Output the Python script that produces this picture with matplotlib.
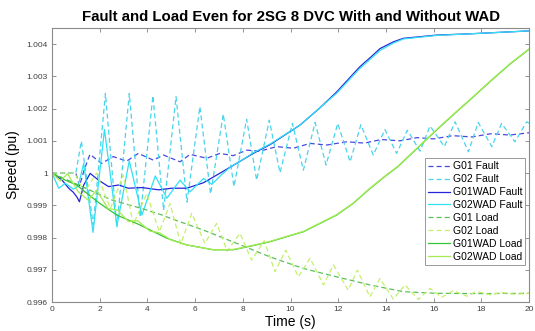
import matplotlib
matplotlib.use("Agg")
import matplotlib.pyplot as plt
from matplotlib.ticker import FuncFormatter

plt.rcParams["font.family"] = ["Liberation Sans", "DejaVu Sans"]

# ---- data (time in s, speed in pu) ----
g01_fault_t = [0, 1.0, 1.15, 1.35, 1.59, 2.08, 2.57, 3.13, 3.62, 4.25, 4.67, 5.37, 5.79, 6.49,
               7.04, 7.6, 8.16, 8.72, 9.42, 10.12, 10.82, 11.52, 12.36, 13.1, 13.8, 14.6, 15.3,
               16.0, 16.8, 17.6, 18.4, 19.2, 20]
g01_fault_v = [1.0, 1.0, 0.9996, 1.0001, 1.00058, 1.0003, 1.00051, 1.00037, 1.00061, 1.0004,
               1.00056, 1.00035, 1.00058, 1.00046, 1.00061, 1.00054, 1.00071, 1.00068, 1.00082,
               1.00077, 1.00092, 1.00087, 1.00097, 1.00093, 1.00104, 1.001, 1.0011, 1.00106,
               1.00116, 1.00112, 1.00122, 1.00118, 1.00125]

g02_fault_t = [0, 1.0, 1.23, 1.73, 2.24, 2.72, 3.24, 3.7, 4.23, 4.68, 5.2, 5.66, 6.2, 6.65, 7.18,
               7.63, 8.16, 8.58, 9.11, 9.56, 10.08, 10.54, 11.03, 11.49, 11.98, 12.5, 12.95, 13.47,
               13.96, 14.45, 14.9, 15.43, 15.85, 16.45, 16.9, 17.46, 17.87, 18.44, 18.85, 19.41,
               19.9, 20]
g02_fault_v = [1.0, 1.0, 1.00099, 0.9984, 1.00247, 0.99833, 1.00247, 0.99863, 1.0024, 0.99885,
               1.00237, 0.9991, 1.00206, 0.99935, 1.00183, 0.99958, 1.00167, 0.99978, 1.00164,
               1.00001, 1.00154, 1.00009, 1.00157, 1.00025, 1.00154, 1.00035, 1.0015, 1.00056,
               1.00135, 1.00061, 1.00133, 1.00068, 1.00146, 1.00082, 1.00159, 1.00066, 1.00157,
               1.00082, 1.00154, 1.00097, 1.00159, 1.00155]

g01wad_fault_t = [0, 0.4, 0.7, 0.9, 1.05, 1.15, 1.33, 1.6, 1.95, 2.37, 2.8, 3.2, 3.77, 4.47,
                  5.03, 5.65, 6.35, 7.05, 7.74, 8.44, 9.14, 10.4, 11.2, 11.94, 12.91, 13.4,
                  13.75, 14.31, 14.73, 16.13, 17.53, 20]
g01wad_fault_v = [1.0, 0.9998, 0.99953, 0.9994, 0.99925, 0.99911, 0.99963, 0.99999, 0.99978,
                  0.99958, 0.99963, 0.99953, 0.99955, 0.99948, 0.99953, 0.99953, 0.9997, 1.0,
                  1.0003, 1.00061, 1.00088, 1.00149, 1.002, 1.00252, 1.0033, 1.00362, 1.00386,
                  1.00407, 1.00418, 1.00428, 1.00432, 1.00441]

g02wad_fault_t = [0, 0.28, 0.56, 0.9, 1.1, 1.33, 1.72, 2.2, 2.72, 3.24, 3.77, 4.33, 4.82, 5.37,
                  5.79, 6.35, 6.7, 7.11, 7.5, 8.0, 8.44, 9.14, 10.4, 11.94, 12.91, 13.75, 14.31,
                  14.73, 16.13, 17.53, 20]
g02wad_fault_v = [1.0, 0.99953, 0.99968, 0.9995, 0.9996, 1.0003, 0.99816, 1.00135, 0.99836,
                  1.00038, 0.9987, 0.99991, 0.99922, 0.99978, 0.99942, 0.99983, 0.99965, 0.99995,
                  1.0002, 1.00042, 1.00063, 1.0009, 1.00149, 1.00248, 1.00325, 1.0038, 1.00403,
                  1.00416, 1.00427, 1.00432, 1.00441]

g01_load_t = [0, 0.6, 1.26, 2.52, 3.77, 4.61, 4.95, 6.35, 7.74, 9.14, 10.54, 11.94, 13.33,
              14.73, 16.13, 18, 20]
g01_load_v = [1.0, 0.9998, 0.99958, 0.99916, 0.9989, 0.9987, 0.9986, 0.99823, 0.99782, 0.9974,
              0.99704, 0.99678, 0.99653, 0.99632, 0.99627, 0.99626, 0.99627]

g02_load_t = [0, 0.95, 1.35, 1.87, 2.45, 2.99, 3.41, 3.97, 4.5, 4.95, 5.4, 5.86, 6.41, 6.9, 7.35,
              7.88, 8.37, 8.9, 9.35, 9.8, 10.33, 10.82, 11.38, 11.8, 12.42, 12.8, 13.33, 13.75,
              14.31, 14.8, 15.36, 15.85, 16.34, 16.83, 17.4, 17.8, 18.4, 18.8, 19.4, 20]
g02_load_v = [1.0, 1.0, 0.9994, 1.0, 0.9989, 0.99994, 0.9984, 0.99937, 0.99818, 0.99905, 0.9978,
              0.99875, 0.99782, 0.99844, 0.99758, 0.99813, 0.9973, 0.9979, 0.99694, 0.99761,
              0.99678, 0.99736, 0.99653, 0.99715, 0.99637, 0.99699, 0.99616, 0.99673, 0.99609,
              0.99653, 0.99608, 0.99642, 0.99615, 0.99635, 0.99618, 0.99633, 0.99622, 0.9963,
              0.99624, 0.99627]

g01wad_load_t = [0, 0.5, 1.03, 1.5, 2.0, 2.71, 3.69, 4.81, 5.65, 6.76, 7.6, 8.44, 9.14, 10.54,
                 11.94, 12.63, 13.3, 14.0, 14.5, 15.3, 16.1, 16.9, 17.6, 18.4, 19.2, 20]
g01wad_load_v = [1.0, 0.9998, 0.99963, 0.99935, 0.99906, 0.9987, 0.99839, 0.99798, 0.99777,
                 0.99762, 0.99762, 0.99775, 0.99787, 0.99818, 0.9987, 0.99906, 0.9995, 0.99992,
                 1.0002, 1.00076, 1.00132, 1.00186, 1.00232, 1.00286, 1.00338, 1.00384]

g02wad_load_t = [0, 0.35, 0.65, 1.1, 1.52, 1.87, 2.35, 2.75, 3.2, 3.6, 4.1, 4.5, 5.0, 5.65,
                 6.76, 7.6, 8.44, 9.14, 10.54, 11.94, 12.63, 13.3, 14.0, 14.5, 15.3, 16.1, 16.9,
                 17.6, 18.4, 19.2, 20]
g02wad_load_v = [1.0, 0.99975, 0.99998, 0.99942, 0.99916, 0.99947, 0.9989, 0.99885, 0.9985,
                 0.99852, 0.9982, 0.99815, 0.99792, 0.99777, 0.99762, 0.99763, 0.99776, 0.99788,
                 0.99819, 0.99871, 0.99907, 0.99951, 0.99993, 1.00021, 1.00077, 1.00133, 1.00187,
                 1.00233, 1.00287, 1.00339, 1.00385]

series = [
    ("G01 Fault", g01_fault_t, g01_fault_v, "#4848e0", "--"),
    ("G02 Fault", g02_fault_t, g02_fault_v, "#48d4ec", "--"),
    ("G01WAD Fault", g01wad_fault_t, g01wad_fault_v, "#2424d8", "-"),
    ("G02WAD Fault", g02wad_fault_t, g02wad_fault_v, "#30e0f4", "-"),
    ("G01 Load", g01_load_t, g01_load_v, "#5cbf5c", "--"),
    ("G02 Load", g02_load_t, g02_load_v, "#c4f06c", "--"),
    ("G01WAD Load", g01wad_load_t, g01wad_load_v, "#36c436", "-"),
    ("G02WAD Load", g02wad_load_t, g02wad_load_v, "#a6ec50", "-"),
]

fig = plt.figure(figsize=(5.35, 3.31), dpi=100)
ax = fig.add_axes([0.0972, 0.0876, 0.8916, 0.8278])
for name, t, v, col, ls in series:
    ax.plot(t, v, ls, color=col, lw=0.9, label=name, solid_joinstyle="round",
            dashes=(4, 2.5) if ls == "--" else (None, None))

ax.set_xlim(0, 20)
ax.set_ylim(0.996, 1.0045)
ax.set_xticks(range(0, 21, 2))
ax.set_yticks([0.996, 0.997, 0.998, 0.999, 1.0, 1.001, 1.002, 1.003, 1.004])
ax.yaxis.set_major_formatter(FuncFormatter(lambda y, _: f"{y:.3f}".rstrip("0").rstrip(".")))
ax.tick_params(direction="in", length=3, width=0.6, colors="#808080", labelcolor="#404040",
               labelsize=6, top=True, right=True, pad=3)
for s in ax.spines.values():
    s.set_color("#8a8a8a"); s.set_linewidth(0.8)

ax.set_xlabel("Time (s)", fontsize=10, labelpad=1)
ax.set_ylabel("Speed (pu)", fontsize=10, labelpad=5)
ax.set_title("Fault and Load Even for 2SG 8 DVC With and Without WAD", fontsize=10.8,
             fontweight="bold", pad=5)

leg = ax.legend(loc="center right", bbox_to_anchor=(0.997, 0.33), fontsize=7.5, frameon=True,
                fancybox=False, edgecolor="#808080", handlelength=2.1, handletextpad=0.3,
                labelspacing=0.28, borderpad=0.3, borderaxespad=0.2)
leg.get_frame().set_linewidth(0.7)

fig.savefig("out.png", dpi=100)
